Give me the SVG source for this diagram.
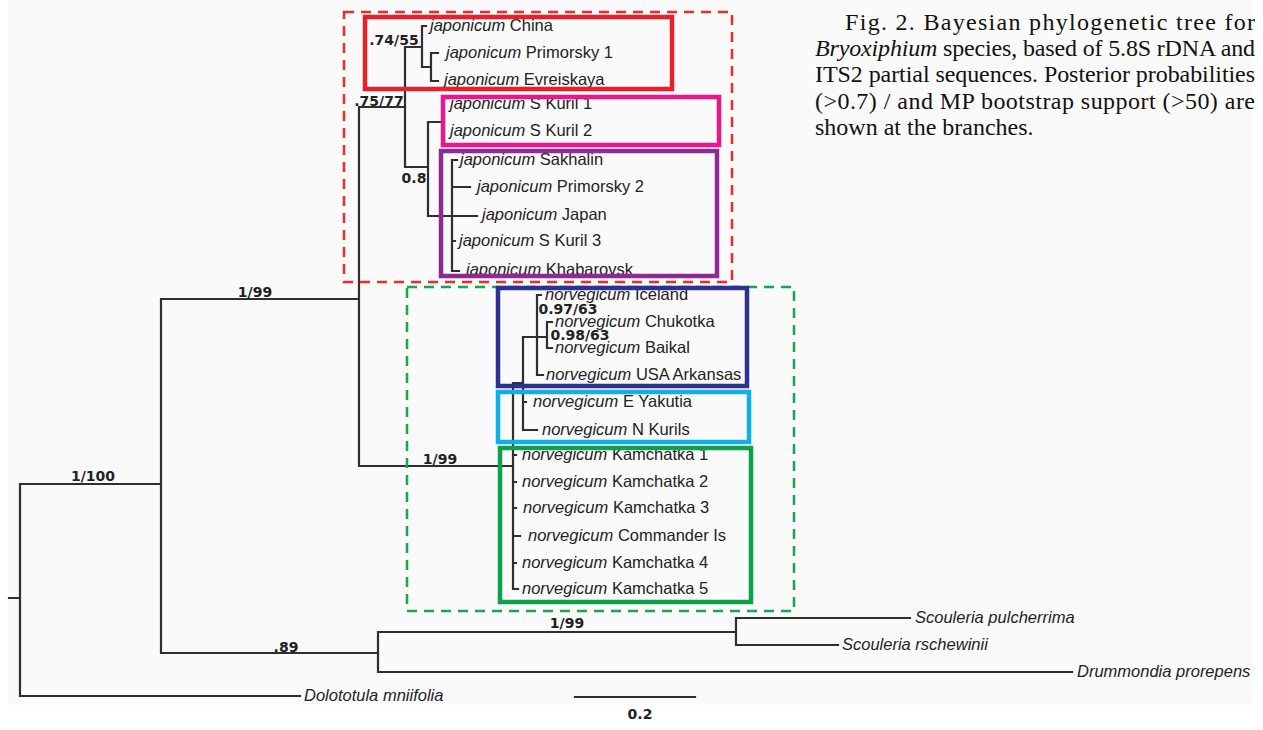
<svg xmlns="http://www.w3.org/2000/svg" width="1263" height="730" viewBox="0 0 1263 730">
<style>
.br{fill:none;stroke:#2f2f2f;stroke-width:2.2;stroke-linecap:square}
.leaf{font-family:"Liberation Sans",Arial,sans-serif;font-size:16.5px;fill:#222}
.ep{font-style:italic}
.out{font-family:"Liberation Sans",Arial,sans-serif;font-size:16.5px;font-style:italic;fill:#222}
.sup{font-family:"DejaVu Sans",Verdana,sans-serif;font-size:14px;font-weight:bold;fill:#222}
.cap{font-family:"Liberation Serif","Times New Roman",serif;font-size:24px;fill:#111}
.dash{fill:none;stroke-width:2.5;stroke-dasharray:10 7}
.box{fill:none;stroke-width:4.5}
</style>
<rect x="0" y="0" width="1263" height="730" fill="#ffffff"/>
<rect x="8" y="0" width="1244" height="705" fill="#fafafa"/>

<g id="connectors">
<path class="br" d="M9,598H20 M20,484V696 M20,484H161 M20,696H300 M161,299V653 M161,299H359 M161,653H378 M359,107V466 M359,107H405 M359,466H513"/>
<path class="br" d="M405,47V167 M405,47H422 M422,26V67 M422,26H426 M422,67H431 M431,53V81 M431,53H438 M431,81H438 M405,167H428 M428,122V216 M428,122H444 M428,216H477 M452,160V271 M452,160H457 M452,187H470 M452,241H455 M452,271H459"/>
<path class="br" d="M513,383V589 M513,383H523 M513,455H516 M513,482H516 M513,508H516 M513,536H520 M513,563H516 M513,589H518 M523,337V430 M523,337H547 M537,295V375 M537,295H541 M537,375H543 M547,322V348 M547,322H552 M547,348H552 M523,402H526 M523,430H537"/>
<path class="br" d="M378,632V672 M378,632H736 M378,672H1072 M736,618V645 M736,618H910 M736,645H838"/>
<path class="br" d="M575,697H695"/>
</g>

<g id="support-labels">
<text class="sup" x="93" y="481" text-anchor="middle">1/100</text>
<text class="sup" x="255" y="297" text-anchor="middle">1/99</text>
<text class="sup" x="379" y="106" text-anchor="middle">.75/77</text>
<text class="sup" x="394" y="45" text-anchor="middle">.74/55</text>
<text class="sup" x="414" y="183" text-anchor="middle">0.8</text>
<text class="sup" x="568" y="314" text-anchor="middle">0.97/63</text>
<text class="sup" x="580" y="340" text-anchor="middle">0.98/63</text>
<text class="sup" x="440" y="464" text-anchor="middle">1/99</text>
<text class="sup" x="286" y="652" text-anchor="middle">.89</text>
<text class="sup" x="567" y="628" text-anchor="middle">1/99</text>
<text class="sup" x="640" y="719" text-anchor="middle">0.2</text>
</g>

<g id="japonicum-leaves">
<g id="j-china"><text class="leaf" x="430" y="31"><tspan class="ep">japonicum</tspan> China</text></g>
<g id="j-primorsky1"><text class="leaf" x="446" y="58"><tspan class="ep">japonicum</tspan> Primorsky 1</text></g>
<g id="j-evreiskaya"><text class="leaf" x="444" y="85"><tspan class="ep">japonicum</tspan> Evreiskaya</text></g>
<g id="j-skuril1"><text class="leaf" x="450" y="109"><tspan class="ep">japonicum</tspan> S Kuril 1</text></g>
<g id="j-skuril2"><text class="leaf" x="450" y="136"><tspan class="ep">japonicum</tspan> S Kuril 2</text></g>
<g id="j-sakhalin"><text class="leaf" x="460" y="165"><tspan class="ep">japonicum</tspan> Sakhalin</text></g>
<g id="j-primorsky2"><text class="leaf" x="477" y="192"><tspan class="ep">japonicum</tspan> Primorsky 2</text></g>
<g id="j-japan"><text class="leaf" x="482" y="220"><tspan class="ep">japonicum</tspan> Japan</text></g>
<g id="j-skuril3"><text class="leaf" x="459" y="246"><tspan class="ep">japonicum</tspan> S Kuril 3</text></g>
<g id="j-khabarovsk"><text class="leaf" x="466" y="275"><tspan class="ep">japonicum</tspan> Khabarovsk</text></g>
</g>

<g id="norvegicum-leaves">
<g id="n-iceland"><text class="leaf" x="545" y="300"><tspan class="ep">norvegicum</tspan> Iceland</text></g>
<g id="n-chukotka"><text class="leaf" x="555" y="327"><tspan class="ep">norvegicum</tspan> Chukotka</text></g>
<g id="n-baikal"><text class="leaf" x="555" y="353"><tspan class="ep">norvegicum</tspan> Baikal</text></g>
<g id="n-usa"><text class="leaf" x="546" y="380"><tspan class="ep">norvegicum</tspan> USA Arkansas</text></g>
<g id="n-eyakutia"><text class="leaf" x="533" y="407"><tspan class="ep">norvegicum</tspan> E Yakutia</text></g>
<g id="n-nkurils"><text class="leaf" x="542" y="435"><tspan class="ep">norvegicum</tspan> N Kurils</text></g>
<g id="n-kam1"><text class="leaf" x="522" y="460"><tspan class="ep">norvegicum</tspan> Kamchatka 1</text></g>
<g id="n-kam2"><text class="leaf" x="522" y="487"><tspan class="ep">norvegicum</tspan> Kamchatka 2</text></g>
<g id="n-kam3"><text class="leaf" x="523" y="513"><tspan class="ep">norvegicum</tspan> Kamchatka 3</text></g>
<g id="n-commander"><text class="leaf" x="528" y="541"><tspan class="ep">norvegicum</tspan> Commander Is</text></g>
<g id="n-kam4"><text class="leaf" x="522" y="568"><tspan class="ep">norvegicum</tspan> Kamchatka 4</text></g>
<g id="n-kam5"><text class="leaf" x="522" y="594"><tspan class="ep">norvegicum</tspan> Kamchatka 5</text></g>
</g>

<g id="outgroups">
<g id="o-pulcherrima"><text class="out" x="915" y="623">Scouleria pulcherrima</text></g>
<g id="o-rschewinii"><text class="out" x="842" y="650">Scouleria rschewinii</text></g>
<g id="o-drummondia"><text class="out" x="1077" y="677">Drummondia prorepens</text></g>
<g id="o-dolototula"><text class="out" x="304" y="701">Dolototula mniifolia</text></g>
</g>

<g id="clade-boxes">
<rect id="box-japonicum" class="dash" x="344" y="12" width="388" height="270" stroke="#ee2a2a"/>
<rect id="box-norvegicum" class="dash" x="407" y="287" width="387" height="324" stroke="#1aa54f"/>
<rect id="box-red" class="box" x="365" y="17" width="307" height="72" stroke="#e8202a"/>
<rect id="box-pink" class="box" x="443" y="97" width="276" height="48" stroke="#ea168c"/>
<rect id="box-purple" class="box" x="441" y="151" width="276" height="125" stroke="#8f2a8e"/>
<rect id="box-navy" class="box" x="498" y="288" width="249" height="98" stroke="#2e3190"/>
<rect id="box-cyan" class="box" x="498" y="392" width="251" height="50" stroke="#11aeea"/>
<rect id="box-green" class="box" x="500" y="448" width="251" height="154" stroke="#0ba14f"/>
</g>

<g id="caption">
<text class="cap" x="845" y="30" textLength="410" lengthAdjust="spacing">Fig. 2. Bayesian phylogenetic tree for</text>
<text class="cap" x="815" y="56" textLength="440" lengthAdjust="spacing"><tspan font-style="italic">Bryoxiphium</tspan> species, based of 5.8S rDNA and</text>
<text class="cap" x="815" y="82" textLength="440" lengthAdjust="spacing">ITS2 partial sequences. Posterior probabilities</text>
<text class="cap" x="815" y="109" textLength="440" lengthAdjust="spacing">(&gt;0.7) / and MP bootstrap support (&gt;50) are</text>
<text class="cap" x="815" y="135">shown at the branches.</text>
</g>
</svg>
